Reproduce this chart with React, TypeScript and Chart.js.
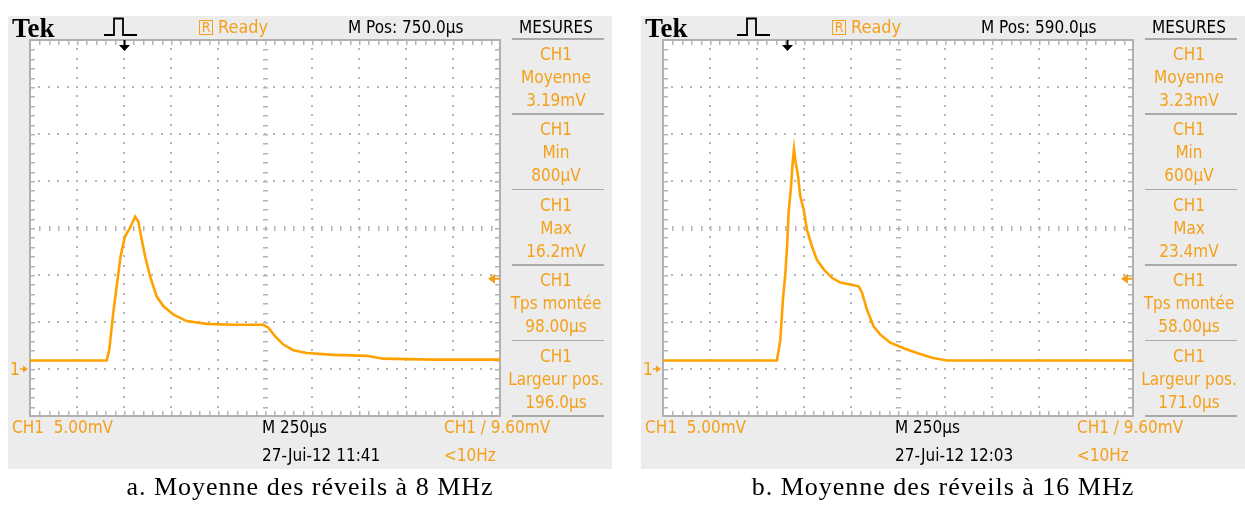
import React, { useEffect, useRef } from 'react';
import { Chart, registerables } from 'chart.js';

Chart.register(...registerables);

// ---- Data (time in µs from left edge of screen, voltage in mV) ----
const time8MHz = [0, 408, 422, 443, 461, 482, 505, 532, 559, 576, 594, 612, 638, 674, 709, 762, 833, 940, 1082, 1241, 1268, 1303, 1348, 1401, 1472, 1613, 1791, 1879, 2145, 2500];
const volt8MHz = [0.9, 0.9, 2.1, 6.0, 8.8, 12.0, 14.1, 15.0, 16.2, 15.7, 13.8, 12.0, 9.9, 7.7, 6.7, 5.8, 5.1, 4.8, 4.7, 4.7, 4.4, 3.5, 2.6, 2.0, 1.7, 1.5, 1.4, 1.1, 1.0, 1.0];

const time16MHz = [0, 606, 624, 638, 651, 660, 668, 681, 691, 697, 706, 716, 730, 748, 766, 793, 819, 855, 899, 943, 996, 1041, 1059, 1085, 1121, 1156, 1209, 1280, 1351, 1431, 1511, 2500];
const volt16MHz = [0.9, 0.9, 3.1, 7.4, 10.2, 13.0, 16.6, 19.4, 22.3, 23.4, 21.9, 20.9, 18.4, 17.0, 14.8, 13.0, 11.6, 10.6, 9.7, 9.2, 9.0, 8.8, 8.1, 6.3, 4.5, 3.65, 2.8, 2.2, 1.7, 1.2, 0.9, 0.9];

const TIME_DIV = 250; // µs/div
const VOLT_DIV = 5; // mV/div
const X_MIN = 0;
const X_MAX = 2500;
const Y_MIN = -5;
const Y_MAX = 35;
const TRIGGER_LEVEL = 9.6;
const triggerTime8MHz = 502;
const triggerTime16MHz = 660;

const measureLabels = ['Moyenne', 'Min', 'Max', 'Tps montée', 'Largeur pos.'];
const measures8MHz = ['3.19mV', '800µV', '16.2mV', '98.00µs', '196.0µs'];
const measures16MHz = ['3.23mV', '600µV', '23.4mV', '58.00µs', '171.0µs'];

const ORANGE = '#f5a01a';
const TRACE = '#ffa200';
const GRID = '#b4b4b4';
const PANEL_BG = '#ececec';
const SCOPE_FONT = '"DejaVu Sans Condensed", "DejaVu Sans", sans-serif';

const PANEL_W = 604;
const PANEL_H = 453;

function makeScopePlugin(triggerTime: number) {
  return {
    id: 'scopeDecor',
    beforeDraw(chart: any) {
      const { ctx, chartArea: a } = chart;
      ctx.save();
      ctx.fillStyle = '#ffffff';
      ctx.fillRect(a.left, a.top, a.right - a.left, a.bottom - a.top);
      ctx.restore();
    },
    beforeDatasetsDraw(chart: any) {
      const { ctx, chartArea: a, scales } = chart;
      const X = (v: number) => Math.round(scales.x.getPixelForValue(v));
      const Y = (v: number) => Math.round(scales.y.getPixelForValue(v));
      ctx.save();
      ctx.fillStyle = GRID;
      const nx = (X_MAX - X_MIN) / TIME_DIV;
      const ny = (Y_MAX - Y_MIN) / VOLT_DIV;
      // vertical lines
      for (let i = 1; i < nx; i++) {
        const x = X(X_MIN + i * TIME_DIV);
        for (let m = 1; m < ny * 5; m++) {
          const y = Y(Y_MIN + (m * VOLT_DIV) / 5);
          if (i === nx / 2) ctx.fillRect(x - 2, y, 5, 1.5);
          else ctx.fillRect(x - 1, y - 1, 2, 2);
        }
      }
      // horizontal lines
      for (let j = 1; j < ny; j++) {
        const y = Y(Y_MIN + j * VOLT_DIV);
        for (let m = 1; m < nx * 5; m++) {
          const x = X(X_MIN + (m * TIME_DIV) / 5);
          if (j === ny / 2) ctx.fillRect(x, y - 2, 1.5, 5);
          else ctx.fillRect(x - 1, y - 1, 2, 2);
        }
      }
      // border ticks
      for (let m = 1; m < nx * 5; m++) {
        const x = X(X_MIN + (m * TIME_DIV) / 5);
        ctx.fillRect(x, a.top, 1.5, 5);
        ctx.fillRect(x, a.bottom - 5, 1.5, 5);
      }
      for (let m = 1; m < ny * 5; m++) {
        const y = Y(Y_MIN + (m * VOLT_DIV) / 5);
        ctx.fillRect(a.left, y, 5, 1.5);
        ctx.fillRect(a.right - 5, y, 5, 1.5);
      }
      ctx.strokeStyle = '#b0b0b0';
      ctx.lineWidth = 2;
      ctx.strokeRect(a.left, a.top, a.right - a.left, a.bottom - a.top);
      ctx.restore();
    },
    afterDraw(chart: any) {
      const { ctx, chartArea: a, scales } = chart;
      ctx.save();
      // trigger position marker
      const tx = Math.round(scales.x.getPixelForValue(triggerTime)) + 0.5;
      ctx.strokeStyle = '#000';
      ctx.fillStyle = '#000';
      ctx.lineWidth = 2;
      ctx.beginPath();
      ctx.moveTo(tx, a.top);
      ctx.lineTo(tx, a.top + 6);
      ctx.stroke();
      ctx.beginPath();
      ctx.moveTo(tx - 5.5, a.top + 5);
      ctx.lineTo(tx + 5.5, a.top + 5);
      ctx.lineTo(tx, a.top + 11);
      ctx.closePath();
      ctx.fill();
      // trigger level marker
      const ty = scales.y.getPixelForValue(TRIGGER_LEVEL);
      ctx.fillStyle = ORANGE;
      ctx.beginPath();
      ctx.moveTo(a.right - 12, ty);
      ctx.lineTo(a.right - 5, ty - 5);
      ctx.lineTo(a.right - 5, ty + 5);
      ctx.closePath();
      ctx.fill();
      ctx.fillRect(a.right - 6, ty - 1, 6, 2);
      // ground marker
      const gy = scales.y.getPixelForValue(0);
      ctx.beginPath();
      ctx.moveTo(a.left - 2, gy);
      ctx.lineTo(a.left - 7, gy - 3.5);
      ctx.lineTo(a.left - 7, gy + 3.5);
      ctx.closePath();
      ctx.fill();
      ctx.fillRect(a.left - 10, gy - 0.75, 4, 1.5);
      ctx.font = '18px ' + SCOPE_FONT;
      ctx.textBaseline = 'middle';
      ctx.textAlign = 'right';
      ctx.fillText('1', a.left - 10, gy + 1);
      ctx.restore();
    },
  };
}

type TxtProps = { x: number; cy: number; color?: string; size?: number; children: React.ReactNode; align?: 'left' | 'center'; w?: number };
function Txt({ x, cy, color = '#000', size = 17, children, align = 'left', w }: TxtProps) {
  return (
    <div
      style={{
        position: 'absolute',
        left: x,
        top: cy - 10,
        width: w,
        height: 20,
        lineHeight: '20px',
        fontSize: size,
        fontFamily: SCOPE_FONT,
        fontStretch: 'condensed',
        color,
        whiteSpace: 'nowrap',
        textAlign: align,
      }}
    >
      {children}
    </div>
  );
}

type ScopeProps = {
  left: number;
  time: number[];
  volt: number[];
  triggerTime: number;
  mpos: string;
  values: string[];
  date: string;
  caption: string;
};

function Scope({ left, time, volt, triggerTime, mpos, values, date, caption }: ScopeProps) {
  const ref = useRef<HTMLCanvasElement>(null);
  useEffect(() => {
    if (!ref.current) return;
    const chart = new Chart(ref.current, {
      type: 'line',
      data: {
        datasets: [
          {
            data: time.map((t, i) => ({ x: t, y: volt[i] })),
            borderColor: TRACE,
            borderWidth: 2.6,
            pointRadius: 0,
            tension: 0,
            fill: false,
          },
        ],
      },
      options: {
        animation: false,
        responsive: false,
        events: [],
        layout: { padding: { left: 22, top: 24, right: PANEL_W - 22 - 470, bottom: PANEL_H - 24 - 376 } },
        scales: {
          x: { type: 'linear', min: X_MIN, max: X_MAX, display: false },
          y: { type: 'linear', min: Y_MIN, max: Y_MAX, display: false },
        },
        plugins: { legend: { display: false }, tooltip: { enabled: false } },
      },
      plugins: [makeScopePlugin(triggerTime)],
    } as any);
    return () => chart.destroy();
  }, [time, volt, triggerTime]);

  const sepStep = 75.4;
  return (
    <>
      <div style={{ position: 'absolute', left, top: 16, width: PANEL_W, height: PANEL_H, background: PANEL_BG }}>
        <canvas ref={ref} width={PANEL_W} height={PANEL_H} style={{ position: 'absolute', left: 0, top: 0 }} />
        {/* Top bar */}
        <div
          style={{
            position: 'absolute',
            left: 4,
            top: -2,
            height: 28,
            lineHeight: '28px',
            fontFamily: '"Liberation Serif", serif',
            fontWeight: 'bold',
            fontSize: 27,
            color: '#000',
          }}
        >
          Tek
        </div>
        <svg style={{ position: 'absolute', left: 90, top: 0 }} width={45} height={24}>
          <polyline points="6,19 16,19 16,2.5 25,2.5 25,19 39,19" fill="none" stroke="#000" strokeWidth={1.8} />
        </svg>
        <div
          style={{
            position: 'absolute',
            left: 191,
            top: 4,
            width: 12,
            height: 13,
            border: `1.5px solid ${ORANGE}`,
            color: ORANGE,
            fontFamily: SCOPE_FONT,
            fontStretch: 'condensed',
            fontSize: 14,
            lineHeight: '13px',
            textAlign: 'center',
          }}
        >
          R
        </div>
        <Txt x={210} cy={10.5} color={ORANGE} size={18}>
          Ready
        </Txt>
        <Txt x={340} cy={10.5}>{mpos}</Txt>
        <Txt x={500} cy={10.5} w={96} align="center">
          MESURES
        </Txt>
        {/* Measurements column */}
        {[0, 1, 2, 3, 4, 5].map((k) => (
          <div
            key={'s' + k}
            style={{ position: 'absolute', left: 504, top: 22 + k * sepStep, width: 92, height: 1.5, background: '#a9a9a9' }}
          />
        ))}
        {measureLabels.map((lab, g) => (
          <React.Fragment key={lab}>
            <Txt x={500} w={96} align="center" cy={38 + g * sepStep} color={ORANGE}>
              CH1
            </Txt>
            <Txt x={500} w={96} align="center" cy={61 + g * sepStep} color={ORANGE}>
              {lab}
            </Txt>
            <Txt x={500} w={96} align="center" cy={84 + g * sepStep} color={ORANGE}>
              {values[g]}
            </Txt>
          </React.Fragment>
        ))}
        {/* Bottom bar */}
        <Txt x={4} cy={411} color={ORANGE}>
          CH1&nbsp;&nbsp;5.00mV
        </Txt>
        <Txt x={254} cy={411}>M 250µs</Txt>
        <Txt x={436} cy={411} color={ORANGE}>
          CH1 / 9.60mV
        </Txt>
        <Txt x={254} cy={439}>{date}</Txt>
        <Txt x={436} cy={439} color={ORANGE}>
          &lt;10Hz
        </Txt>
      </div>
      <div
        style={{
          position: 'absolute',
          left,
          top: 472,
          width: PANEL_W,
          height: 30,
          lineHeight: '30px',
          textAlign: 'center',
          fontFamily: '"Liberation Serif", serif',
          fontSize: 26,
          letterSpacing: 1,
          color: '#000',
          whiteSpace: 'nowrap',
        }}
      >
        {caption}
      </div>
    </>
  );
}

export default function App() {
  return (
    <div style={{ position: 'absolute', left: 0, top: 0, width: 1245, height: 506, background: '#fff', overflow: 'hidden' }}>
      <Scope
        left={8}
        time={time8MHz}
        volt={volt8MHz}
        triggerTime={triggerTime8MHz}
        mpos="M Pos: 750.0µs"
        values={measures8MHz}
        date="27-Jui-12 11:41"
        caption="a. Moyenne des réveils à 8 MHz"
      />
      <Scope
        left={641}
        time={time16MHz}
        volt={volt16MHz}
        triggerTime={triggerTime16MHz}
        mpos="M Pos: 590.0µs"
        values={measures16MHz}
        date="27-Jui-12 12:03"
        caption="b. Moyenne des réveils à 16 MHz"
      />
    </div>
  );
}
